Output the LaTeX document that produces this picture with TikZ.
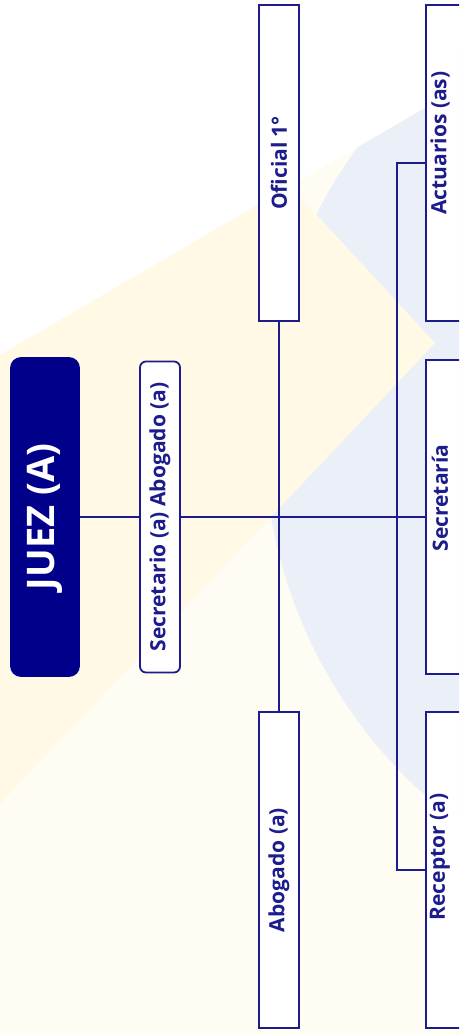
\documentclass[tikz,border=0pt]{standalone}
\usepackage{fontspec}
\setmainfont{Open Sans}
\definecolor{navy}{RGB}{28,28,140}
\definecolor{juezfill}{RGB}{0,0,138}
\definecolor{bgcream}{RGB}{255,252,243}
\definecolor{bgyellow}{RGB}{255,249,230}
\definecolor{bgblue}{RGB}{235,239,248}
\begin{document}
\begin{tikzpicture}[x=1pt,y=-1pt,
  box/.style={draw=navy, line width=1.8pt, fill=white, inner sep=0pt, text=navy,
              font=\bfseries\fontsize{21}{25}\selectfont},
  lbl/.style={text=navy, font=\bfseries\fontsize{21}{25}\selectfont, inner sep=0pt},
  conn/.style={draw=navy, line width=1.5pt}]
\useasboundingbox (0,0) rectangle (459,1035);
\clip (0,0) rectangle (459,1035);
% background
\fill[bgcream] (0,0) rectangle (459,1035);
\fill[bgblue] (750,434) circle (486);
\fill[white] (0,0) -- (459,0) -- (459,88) -- (0,355) -- cycle;
\fill[bgyellow] (0,355) -- (290,186) -- (435,343) -- (0,804) -- cycle;
% connectors first (boxes cover them)
\coordinate (busx) at (397,517);
% nodes
\node[box, fill=juezfill, draw=juezfill, rounded corners=10pt, minimum width=68pt, minimum height=318pt,
      text=white, font=\bfseries\fontsize{38}{44}\selectfont] (juez) at (45,517) {\rotatebox{90}{JUEZ (A)}};
\node[box, rounded corners=6pt, minimum width=40pt, minimum height=311pt] (sec) at (160,517) {\rotatebox{90}{Secretario (a) Abogado (a)}};
\node[box, minimum width=40pt, minimum height=316pt] (ofi) at (279,163) {\rotatebox{90}{Oficial 1°}};
\node[box, minimum width=40pt, minimum height=316pt] (abo) at (279,870) {\rotatebox{90}{Abogado (a)}};
\node[box, minimum width=64pt, minimum height=316pt] (act) at (458,163) {};
\node[box, minimum width=64pt, minimum height=314pt] (secr) at (458,517) {};
\node[box, minimum width=64pt, minimum height=316pt] (rec) at (458,870) {};
\node[lbl] (tact) at (440,143) {\rotatebox{90}{Actuarios (as)}};
\node[lbl] (tsecr) at (440,498) {\rotatebox{90}{Secretaría}};
\node[lbl] (trec) at (440,857) {\rotatebox{90}{Receptor (a)}};
% connectors
\draw[conn] (juez.east) -- (sec.west);
\draw[conn] (sec.east) -- (secr.west);
\draw[conn] (ofi.south) -- (abo.north);
\draw[conn] (act.west) -| (busx) |- (rec.west);
\end{tikzpicture}
\end{document}
